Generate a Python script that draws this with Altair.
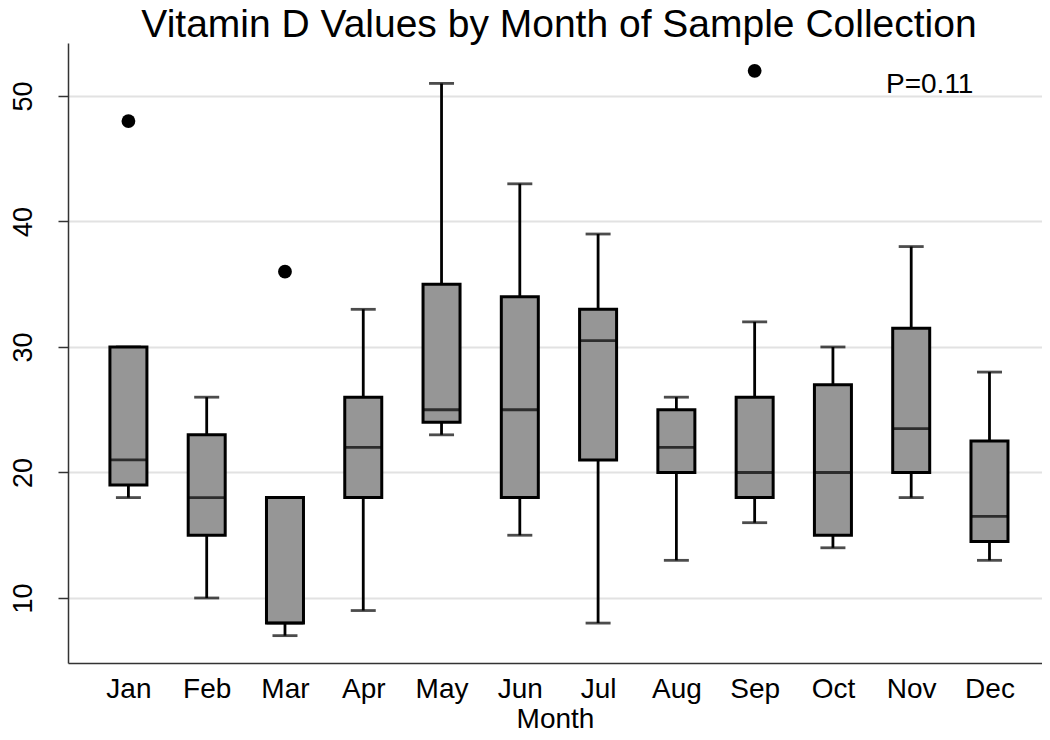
import json
import altair as alt
import pandas as pd

months = ["Jan", "Feb", "Mar", "Apr", "May", "Jun", "Jul", "Aug", "Sep", "Oct", "Nov", "Dec"]
month_idx = list(range(1, 13))
lower = [18, 10, 7, 9, 23, 15, 8, 13, 16, 14, 18, 13]
q1 = [19, 15, 8, 18, 24, 18, 21, 20, 18, 15, 20, 14.5]
median = [21, 18, 8, 22, 25, 25, 30.5, 22, 20, 20, 23.5, 16.5]
q3 = [30, 23, 18, 26, 35, 34, 33, 25, 26, 27, 31.5, 22.5]
upper = [30, 26, 18, 33, 51, 43, 39, 26, 32, 30, 38, 28]

outlier_month = [1, 3, 9]
outlier_value = [48, 36, 52]

y_ticks = [10, 20, 30, 40, 50]
p_text = "P=0.11"
title_text = "Vitamin D Values by Month of Sample Collection"

box_df = pd.DataFrame({
    "idx": month_idx, "month": months, "lower": lower, "q1": q1,
    "median": median, "q3": q3, "upper": upper,
})
out_df = pd.DataFrame({"idx": outlier_month, "value": outlier_value})

FONT = "Liberation Sans"
W, H = 974, 620
x_scale = alt.Scale(domain=[0.292, 12.607], nice=False, zero=False)
y_scale = alt.Scale(domain=[4.82, 54.22], nice=False, zero=False)

label_expr = json.dumps(months) + "[datum.value - 1]"

x_axis = alt.Axis(
    values=month_idx, labelExpr=label_expr, title="Month", grid=False,
    ticks=False, domain=True, domainColor="#333333", domainWidth=1.5,
    labelFont=FONT, labelFontSize=28, labelColor="black",
    labelBaseline="alphabetic", labelPadding=34, labelFlush=False,
    titleFont=FONT, titleFontSize=28, titleFontWeight="normal", titleColor="black",
    titleBaseline="alphabetic", titleY=64,
)
y_axis = alt.Axis(
    values=y_ticks, title=None, grid=True, gridColor="#e2e2e2", gridWidth=2,
    domain=True, domainColor="#333333", domainWidth=1.5,
    ticks=True, tickColor="#333333", tickWidth=1.5, tickSize=10,
    labelFont=FONT, labelFontSize=27, labelColor="black", labelAngle=-90,
    labelAlign="center", labelBaseline="alphabetic", labelPadding=27,
)

base = alt.Chart(box_df)

whisker = base.mark_rule(color="black", strokeWidth=2.8).encode(
    x=alt.X("idx:Q", scale=x_scale, axis=x_axis),
    y=alt.Y("lower:Q", scale=y_scale, axis=y_axis),
    y2="upper:Q",
)
cap_low = base.mark_tick(orient="horizontal", color="black", size=25, thickness=2.8).encode(
    x=alt.X("idx:Q", scale=x_scale), y=alt.Y("lower:Q", scale=y_scale)
)
cap_high = base.mark_tick(orient="horizontal", color="black", size=25, thickness=2.8).encode(
    x=alt.X("idx:Q", scale=x_scale), y=alt.Y("upper:Q", scale=y_scale)
)
box = base.mark_bar(size=37, color="#969696", stroke="black", strokeWidth=3).encode(
    x=alt.X("idx:Q", scale=x_scale),
    y=alt.Y("q1:Q", scale=y_scale),
    y2="q3:Q",
)
med = base.mark_tick(orient="horizontal", color="black", size=37, thickness=2.8).encode(
    x=alt.X("idx:Q", scale=x_scale), y=alt.Y("median:Q", scale=y_scale)
)
outliers = alt.Chart(out_df).mark_circle(color="black", opacity=1, size=190).encode(
    x=alt.X("idx:Q", scale=x_scale), y=alt.Y("value:Q", scale=y_scale)
)
ptext = alt.Chart(pd.DataFrame({"t": [p_text]})).mark_text(
    font=FONT, fontSize=28, color="black", align="left", baseline="alphabetic"
).encode(x=alt.value(818), y=alt.value(50), text="t:N")

title_mark = alt.Chart(pd.DataFrame({"t": [title_text]})).mark_text(
    font=FONT, fontSize=39, color="black", align="center", baseline="alphabetic"
).encode(x=alt.value(W / 2 + 4), y=alt.value(-6), text="t:N")

chart = alt.layer(whisker, cap_low, cap_high, box, med, outliers, ptext, title_mark).properties(
    width=W, height=H,
    autosize=alt.AutoSizeParams(type="none"),
    padding={"left": 60, "top": 35, "right": 0, "bottom": 69},
).configure(background="white").configure_view(stroke=None)

chart.save("out.html", embed_options={"renderer": "svg", "actions": False})
